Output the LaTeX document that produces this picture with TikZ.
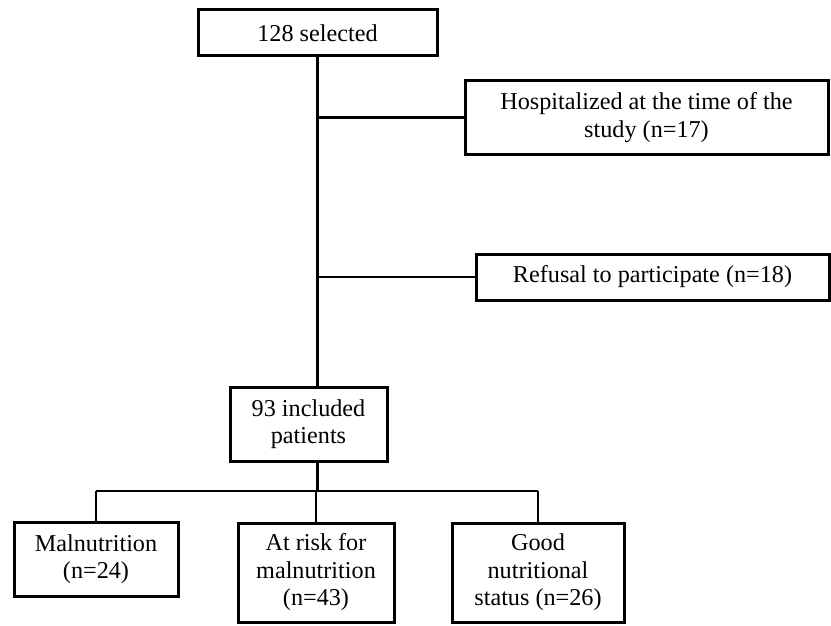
\documentclass[tikz,border=0pt]{standalone}
\usepackage{fontspec}
\setmainfont{Liberation Serif}
\tikzset{
    flowbox/.style={draw, line width=3pt, align=center, inner sep=0pt,
        font=\fontsize{24.2}{27.5}\selectfont},
    link/.style={line width=2.8pt}
}
\begin{document}
\begin{tikzpicture}[x=1pt, y=-1pt]
        \useasboundingbox (0,0) rectangle (831,626);

        % selected
        \node[flowbox, minimum width=239, minimum height=46] (sel) at (317.5,33) {128 selected};

        % exclusions
        \node[flowbox, minimum width=363, minimum height=73] (hosp) at (646.5,117.5) {Hospitalized at the time of the\\study (n=17)};
        \node[flowbox, minimum width=353, minimum height=46] (ref) at (652.5,277) {Refusal to participate (n=18)};

        % included
        \node[flowbox, minimum width=157, minimum height=74] (incl) at (308.5,424) {93 included\\patients};

        % groups
        \node[flowbox, minimum width=164, minimum height=74] (maln) at (96,559) {Malnutrition\\(n=24)};
        \node[flowbox, minimum width=156, minimum height=99] (risk) at (316,572.5) {At risk for\\malnutrition\\(n=43)};
        \node[flowbox, minimum width=172, minimum height=99] (good) at (538,572.5) {Good\\nutritional\\status (n=26)};

        % trunk
        \draw[link] (sel.south) -- (sel.south |- incl.north);
        \draw[link] (sel.south |- hosp.west) -- (hosp.west);
        \draw[link] (sel.south |- ref.west) -- (ref.west);

        % split
        \coordinate (bar) at (317.5,491);
        \draw[link] (sel.south |- incl.south) -- (bar);
        \draw[link] (maln.north |- bar) -- (good.north |- bar);
        \draw[link] (maln.north |- bar) -- (maln.north);
        \draw[link] (risk.north |- bar) -- (risk.north);
        \draw[link] (good.north |- bar) -- (good.north);

    \end{tikzpicture}
\end{document}
